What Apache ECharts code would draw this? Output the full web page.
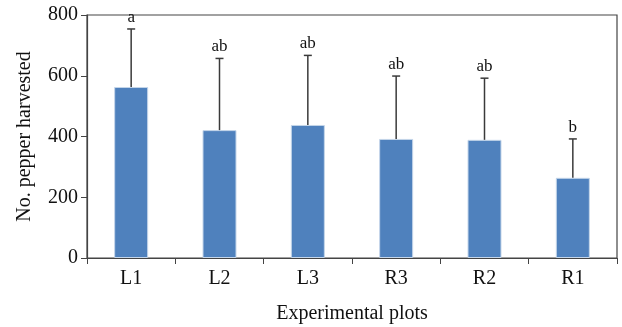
<!DOCTYPE html>
<html>
<head>
<meta charset="utf-8">
<script src="https://cdn.jsdelivr.net/npm/echarts@6/dist/echarts.min.js"></script>
<style>
html, body { margin: 0; padding: 0; background: #fff; }
#chart { width: 622px; height: 327px; }
</style>
</head>
<body>
<div id="chart"></div>
<script>
var plots = ['L1', 'L2', 'L3', 'R3', 'R2', 'R1'];
var means = [563, 421, 438, 392, 389, 264];
var upper = [754, 657, 667, 599, 592, 392];   // mean + SD
var letters = ['a', 'ab', 'ab', 'ab', 'ab', 'b'];
var yTicks = [0, 200, 400, 600, 800];

var font = '"Liberation Serif", "Times New Roman", serif';

var chart = echarts.init(document.getElementById('chart'));

var errData = plots.map(function (p, i) {
    return [i, means[i], upper[i], letters[i]];
});

var option = {
    animation: false,
    grid: {
        left: 87, right: 5, top: 15, bottom: 69,
        outerBoundsMode: 'none', containLabel: false,
        show: true, borderColor: '#444', borderWidth: 1.2
    },
    xAxis: {
        type: 'category',
        data: plots,
        name: 'Experimental plots',
        nameLocation: 'middle',
        nameGap: 46,
        nameTextStyle: { fontFamily: font, fontSize: 20, color: '#111' },
        axisLine: { lineStyle: { color: '#444', width: 1.2 } },
        axisTick: { show: true, alignWithLabel: false, length: 6, lineStyle: { color: '#444' } },
        axisLabel: { fontFamily: font, fontSize: 20, color: '#111', margin: 11 },
        splitLine: { show: false }
    },
    yAxis: {
        type: 'value',
        min: yTicks[0],
        max: yTicks[yTicks.length - 1],
        interval: 200,
        name: 'No. pepper harvested',
        nameLocation: 'middle',
        nameGap: 52,
        nameTextStyle: { fontFamily: font, fontSize: 20, color: '#111' },
        axisLine: { show: true, lineStyle: { color: '#444', width: 1.2 } },
        axisTick: { show: true, length: 6, lineStyle: { color: '#444' } },
        axisLabel: { fontFamily: font, fontSize: 20, color: '#111', margin: 9 },
        splitLine: { show: false }
    },
    series: [
        {
            type: 'bar',
            data: means,
            barWidth: 34,
            itemStyle: { color: '#4f81bd', borderColor: '#c5d6ea', borderWidth: 1 }
        },
        {
            type: 'custom',
            data: errData,
            z: 5,
            renderItem: function (params, api) {
                var x = api.value(0);
                var lo = api.coord([x, api.value(1)]);
                var hi = api.coord([x, api.value(2)]);
                var style = { stroke: '#3a3a3a', lineWidth: 1.5 };
                return {
                    type: 'group',
                    children: [
                        { type: 'line', shape: { x1: lo[0], y1: lo[1], x2: hi[0], y2: hi[1] }, style: style },
                        { type: 'line', shape: { x1: hi[0] - 4, y1: hi[1], x2: hi[0] + 4, y2: hi[1] }, style: style },
                        {
                            type: 'text',
                            x: hi[0],
                            y: hi[1] - 3,
                            style: {
                                text: api.value(3),
                                textAlign: 'center',
                                textVerticalAlign: 'bottom',
                                font: '17px ' + font,
                                fill: '#111'
                            }
                        }
                    ]
                };
            }
        }
    ]
};

chart.setOption(option);
</script>
</body>
</html>
